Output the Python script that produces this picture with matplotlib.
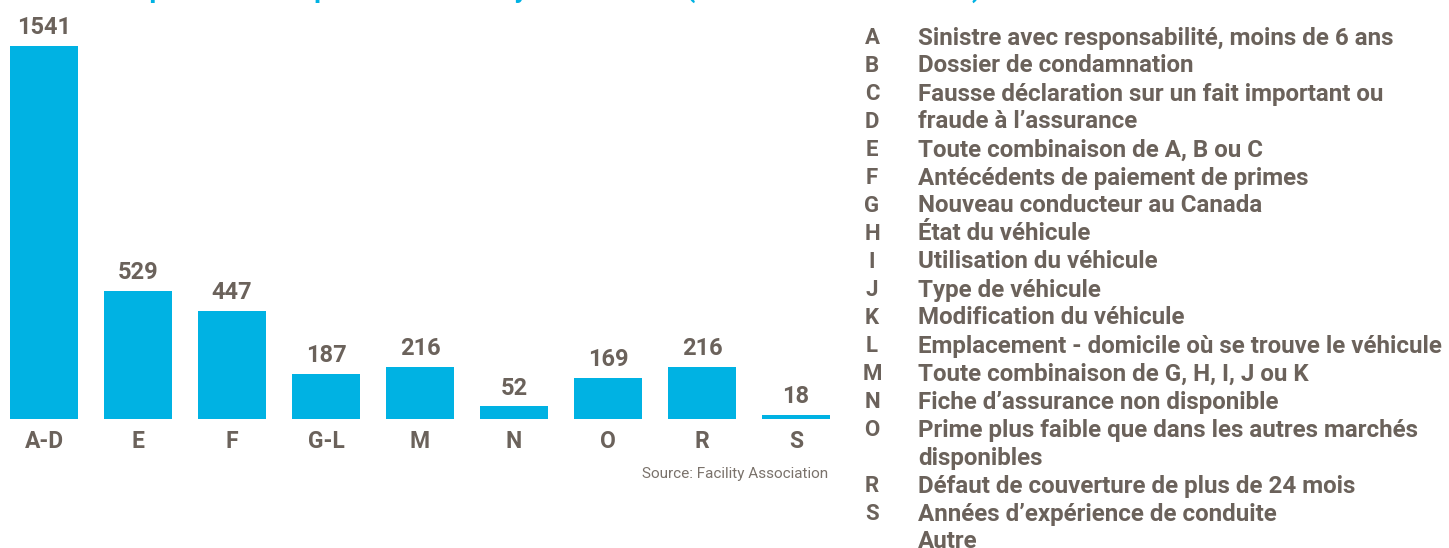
import matplotlib
matplotlib.use('Agg')
import matplotlib.pyplot as plt

categories = ['A-D', 'E', 'F', 'G-L', 'M', 'N', 'O', 'R', 'S']
values = [1541, 529, 447, 187, 216, 52, 169, 216, 18]

legend_letters = ['A', 'B', 'C', 'D', 'E', 'F', 'G', 'H', 'I', 'J', 'K', 'L', 'M', 'N', 'O', '', 'R', 'S', '']
legend_texts = [
    'Sinistre avec responsabilité, moins de 6 ans',
    'Dossier de condamnation',
    'Fausse déclaration sur un fait important ou',
    'fraude à l\u2019assurance',
    'Toute combinaison de A, B ou C',
    'Antécédents de paiement de primes',
    'Nouveau conducteur au Canada',
    'État du véhicule',
    'Utilisation du véhicule',
    'Type de véhicule',
    'Modification du véhicule',
    'Emplacement - domicile où se trouve le véhicule',
    'Toute combinaison de G, H, I, J ou K',
    'Fiche d\u2019assurance non disponible',
    'Prime plus faible que dans les autres marchés',
    'disponibles',
    'Défaut de couverture de plus de 24 mois',
    'Années d\u2019expérience de conduite',
    'Autre',
]

title = 'Raisons du placement auprès de la Facility Association (non toutes ces raisons)'
source = 'Source: Facility Association'

blue = '#00B2E3'
grey = '#6B625B'
font = ['Roboto', 'DejaVu Sans']

fig = plt.figure(figsize=(14.49, 5.48), dpi=100)
ax = fig.add_axes([9.7 / 1449, 129 / 548, 820.6 / 1449, 373 / 548])

x = range(len(categories))
ax.bar(x, values, width=0.73, color=blue)
ax.set_xlim(-0.365, len(categories) - 1 + 0.365)
ax.set_ylim(0, max(values))

for xi, v in zip(x, values):
    ax.text(xi, v + 28, str(v), ha='center', va='bottom', fontsize=17,
            fontweight='bold', color=grey, family=font, clip_on=False)

ax.set_xticks(list(x))
ax.set_xticklabels(categories, fontsize=16.5, fontweight='bold', color=grey, family=font)
ax.tick_params(axis='x', length=0, pad=8)
ax.set_yticks([])
for s in ax.spines.values():
    s.set_visible(False)

fig.text(828 / 1449, 1 - 474 / 548, source, ha='right', va='center', fontsize=11,
         color='#7A726B', family=font)

# title mostly cut off by the top edge, only descenders visible
fig.text(8 / 1449, 1 + 3 / 548, title, ha='left', va='baseline', fontsize=19.5,
         fontweight='bold', color=blue, family=font)

y0 = 38
step = 28
for i, (letter, txt) in enumerate(zip(legend_letters, legend_texts)):
    y = 1 - (y0 + i * step) / 548
    if letter:
        fig.text(872 / 1449, y, letter, ha='center', va='center', fontsize=16,
                 fontweight='bold', color=grey, family=font)
    fig.text(918 / 1449, y, txt, ha='left', va='center', fontsize=17.4,
             fontweight='bold', color=grey, family=font)

fig.savefig('out.png', dpi=100)
